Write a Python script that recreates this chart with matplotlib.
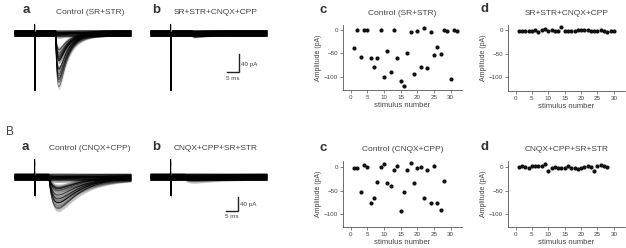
import numpy as np
import matplotlib
matplotlib.use("Agg")
import matplotlib.pyplot as plt

plt.rcParams['font.family'] = ['Liberation Sans', 'DejaVu Sans']

# ---------------- data ----------------
# Amplitudes (pA) per stimulus
stim_Ac = list(range(1, 33))
amp_Ac = [-38, 0, -57, 0, 0, -61, -79, -61, 0, -101, -45, -91, 0, -61, -110, -120,
          -49, -5, -95, -2, -79, 4, -82, -5, -54, -36, -52, -1, -2, -104, 1, -2]
stim_Ad = list(range(1, 31))
amp_Ad = [-1, -1, -1, -1, -1, 0, -4, 1, 2, -1, 1, -1, -3, 6, -2, -1, -1, -1, 0, 1,
          1, 0, -2, -3, -1, 0, -2, -4, -2, -2]
stim_Bc = list(range(1, 29))
amp_Bc = [-2, -2, -54, 3, 0, -77, -66, -33, 0, 5, -35, -40, -7, 1, -94, -54, -6, 8,
          -35, -2, 0, -65, -7, -77, 1, -77, -91, -31]
stim_Bd = list(range(1, 29))
amp_Bd = [0, 1, -1, -3, 1, 2, 1, 2, 5, -9, -2, -1, -2, -3, -3, 2, -2, -3, -5, -3,
          0, 1, -1, -9, 2, 3, 1, -1]

xticks = [0, 5, 10, 15, 20, 25, 30]
yticks = [0, -50, -100]

# Trace kinetics (ms) and stimulus artifact (pA)
sweep_ms = 49.0
stim_ms = 8.5
A_onset, A_rise, A_decay = 17.4, 0.8, 4.0
B_onset, B_rise, B_decay = 14.5, 2.5, 10.0
art_dt = [0.0, 0.1, 0.25, 0.45]
art_A = [0, 18, -127, 0]
art_B = [0, 49, -54, 0]
noise_A, noise_B = 7.0, 10.0
scale_ms, scale_pA = 5, 40

# ---------------- figure ----------------
W, H = 626, 248
fig = plt.figure(figsize=(W / 100, H / 100), dpi=100)


def ax_px(l, t, r, b):
    return fig.add_axes([l / W, 1 - b / H, (r - l) / W, (b - t) / H])


TXT = '#444444'
t = np.arange(0, sweep_ms, 0.05)


def waveform(onset, rise, decay):
    s = np.clip(t - onset, 0, None)
    w = (1 - np.exp(-s / rise)) * np.exp(-s / decay)
    return w / w.max()


def draw_traces(ax, amps, onset, rise, decay, art, noise, ylim):
    w = waveform(onset, rise, decay)
    artifact = np.interp(t - stim_ms, art_dt, art, left=0, right=0)
    for a in amps:
        y = -abs(a) * w if a < 0 else a * 0.2 * w
        y = y + artifact
        ax.fill_between(t, y - noise, y + noise, color='black', alpha=0.13, lw=0)
        ax.plot(t, y, color='black', lw=0.5, alpha=0.6)
    ax.set_xlim(0, sweep_ms)
    ax.set_ylim(*ylim)
    ax.axis('off')


def scale_bar(ax, x0, y0):
    ax.plot([x0 - scale_ms, x0, x0], [y0, y0, y0 + scale_pA], color='#222222', lw=1.0,
            solid_joinstyle='miter')
    ax.text(x0 + 1.0, y0 + scale_pA * 0.45, f'{scale_pA} pA', fontsize=4.5, color=TXT,
            va='center', ha='left')
    ax.text(x0 - scale_ms / 2, y0 - 4 * abs(ax.get_ylim()[0]) / 100 - 4, f'{scale_ms} ms',
            fontsize=4.5, color=TXT, va='top', ha='center')


def scatter_panel(ax, x, y, ylim, title):
    ax.plot(x, y, 'o', color='#111111', ms=3.0, mew=0)
    ax.set_xlim(-2.3, 33.4)
    ax.set_ylim(*ylim)
    ax.set_xticks(xticks)
    ax.set_yticks(yticks)
    for s in ['top', 'right']:
        ax.spines[s].set_visible(False)
    for s in ['left', 'bottom']:
        ax.spines[s].set_linewidth(0.6)
        ax.spines[s].set_color('#555555')
    ax.tick_params(labelsize=4.5, length=2, width=0.5, pad=1.5, colors='#555555',
                   labelcolor=TXT)
    ax.set_xlabel('stimulus number', fontsize=5.5, color=TXT, labelpad=1.5)
    ax.set_ylabel('Amplitude (pA)', fontsize=5, color=TXT, labelpad=1.5)
    ax.set_title(title, fontsize=6, color=TXT, pad=7)


# Row A traces
ylimA = (-138, 29)
axAa = ax_px(14, 20, 131, 95)
draw_traces(axAa, amp_Ac, A_onset, A_rise, A_decay, art_A, noise_A, ylimA)
axAb = ax_px(150, 20, 267, 95)
draw_traces(axAb, amp_Ad, A_onset, A_rise, A_decay, art_A, noise_A, ylimA)
scale_bar(axAb, 37.2, -87)

# Row B traces
ylimB = (-157, 64)
axBa = ax_px(14, 155, 131, 230)
draw_traces(axBa, amp_Bc, B_onset, B_rise, B_decay, art_B, noise_B, ylimB)
axBb = ax_px(150, 155, 267, 230)
draw_traces(axBb, amp_Bd, B_onset, B_rise, B_decay, art_B, noise_B, ylimB)
scale_bar(axBb, 36.8, -101)

# Scatter panels
axAc = ax_px(343, 25, 462, 90)
scatter_panel(axAc, stim_Ac, amp_Ac, (-128.5, 10.7), 'Control (SR+STR)')
axAd = ax_px(508, 25, 625, 91)
scatter_panel(axAd, stim_Ad, amp_Ad, (-128.5, 10.7), 'SR+STR+CNQX+CPP')
axBc = ax_px(343, 161, 462, 227)
scatter_panel(axBc, stim_Bc, amp_Bc, (-126.7, 12), 'Control (CNQX+CPP)')
axBd = ax_px(508, 161, 625, 227)
scatter_panel(axBd, stim_Bd, amp_Bd, (-126.7, 12), 'CNQX+CPP+SR+STR')


def ftext(x, y, s, **kw):
    fig.text(x / W, 1 - y / H, s, **kw)


# Panel titles for traces
ftext(90, 12, 'Control (SR+STR)', fontsize=6, color=TXT, ha='center', va='center')
ftext(216, 12, 'SR+STR+CNQX+CPP', fontsize=6, color=TXT, ha='center', va='center')
ftext(90, 149, 'Control (CNQX+CPP)', fontsize=6, color=TXT, ha='center', va='center')
ftext(216, 149, 'CNQX+CPP+SR+STR', fontsize=6, color=TXT, ha='center', va='center')

# Panel letters
lab = dict(fontsize=9.5, fontweight='bold', color='#333333', ha='center', va='center')
for x, y, s in [(26, 10, 'a'), (156, 10, 'b'), (323, 10, 'c'), (484, 9, 'd'),
                (25, 147, 'a'), (156, 147, 'b'), (323, 148, 'c'), (484, 147, 'd')]:
    ftext(x, y, s, **lab)
ftext(10, 132, 'B', fontsize=8.5, color='#444444', ha='center', va='center')

fig.savefig('out.png', dpi=100)
